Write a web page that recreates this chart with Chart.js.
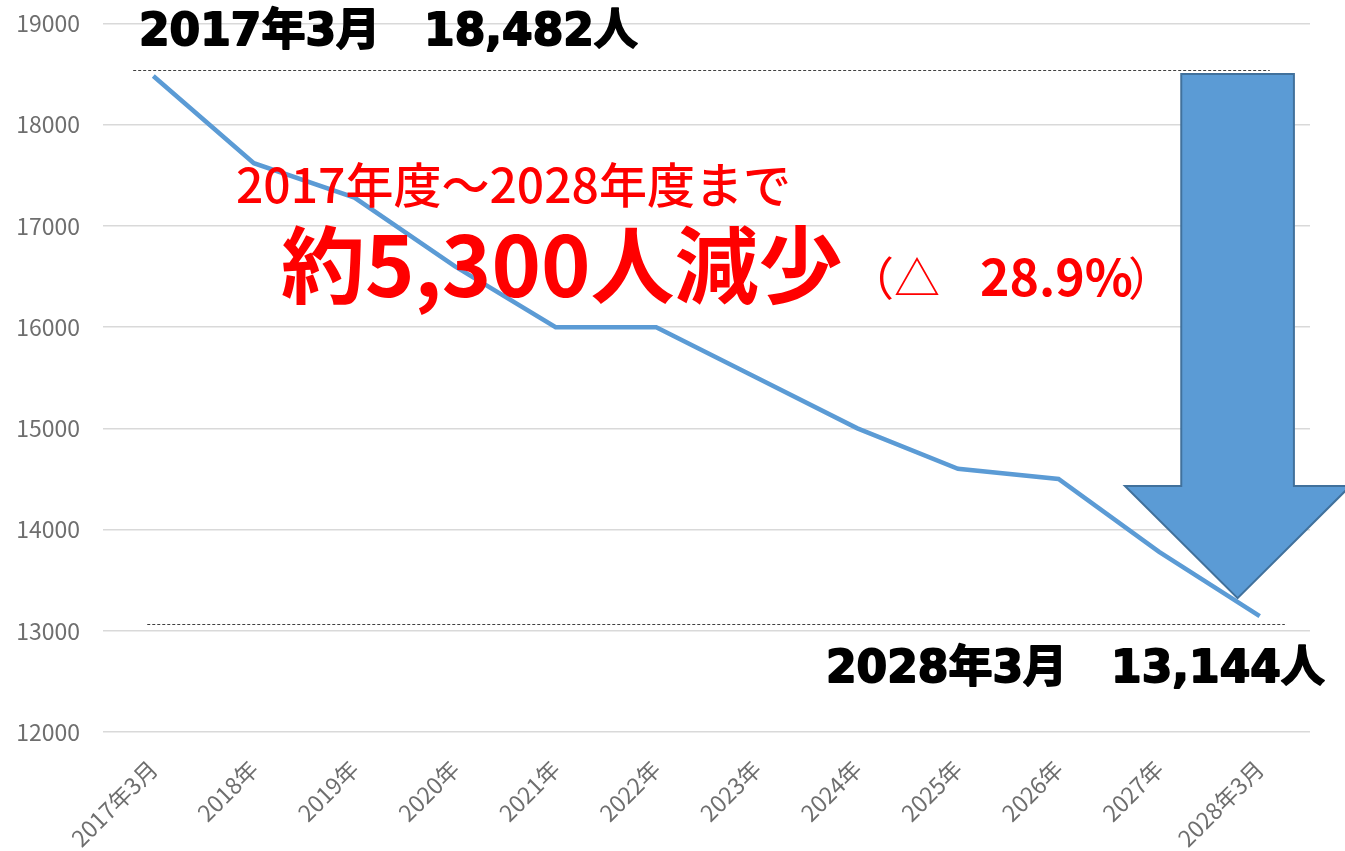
<!DOCTYPE html>
<html lang="ja">
<head>
<meta charset="utf-8">
<script src="https://cdn.jsdelivr.net/npm/chart.js@4.4.1/dist/chart.umd.min.js"></script>
<style>
  html, body { margin: 0; padding: 0; background: #fff; }
  #wrap { width: 1345px; height: 851px; position: relative; }
</style>
</head>
<body>
<div id="wrap"><canvas id="popChart"></canvas></div>
<script>
const years = ["2017年3月", "2018年", "2019年", "2020年", "2021年", "2022年",
  "2023年", "2024年", "2025年", "2026年", "2027年", "2028年3月"];
const population = [18482, 17620, 17280, 16600, 16000, 16000, 15500, 15000, 14600, 14500, 13780, 13144];
const yTicks = [12000, 13000, 14000, 15000, 16000, 17000, 18000, 19000];

const JP = '"Noto Sans CJK JP", "Noto Sans", sans-serif';
const HEAVY = '"DejaVu Sans", "Noto Sans CJK JP", sans-serif';

// dashed reference lines, arrow and captions drawn on top of the chart
const overlay = {
  id: "overlay",
  afterDatasetsDraw(chart) {
    const c = chart.ctx;
    const x = chart.scales.x, y = chart.scales.y;
    const step = x.getPixelForValue(1) - x.getPixelForValue(0);

    c.save();
    c.strokeStyle = "#404040";
    c.lineWidth = 1;
    c.setLineDash([3, 2]);
    c.beginPath();
    c.moveTo(x.getPixelForValue(-0.2), Math.round(y.getPixelForValue(18540)) + 0.5);
    c.lineTo(x.getPixelForValue(11.1), Math.round(y.getPixelForValue(18540)) + 0.5);
    c.moveTo(x.getPixelForValue(-0.06), Math.round(y.getPixelForValue(13066)) + 0.5);
    c.lineTo(x.getPixelForValue(11.25), Math.round(y.getPixelForValue(13066)) + 0.5);
    c.stroke();
    c.setLineDash([]);

    // down arrow
    const cx = x.getPixelForValue(10.78);
    const shaft = step * 0.56, head = step * 1.12;
    const top = y.getPixelForValue(18500), base = y.getPixelForValue(14430), tip = y.getPixelForValue(13323);
    c.beginPath();
    c.moveTo(cx - shaft, top);
    c.lineTo(cx + shaft, top);
    c.lineTo(cx + shaft, base);
    c.lineTo(cx + head, base);
    c.lineTo(cx, tip);
    c.lineTo(cx - head, base);
    c.lineTo(cx - shaft, base);
    c.closePath();
    c.fillStyle = "#5B9BD5";
    c.fill();
    c.strokeStyle = "#41719C";
    c.lineWidth = 2;
    c.stroke();

    // captions
    c.textBaseline = "alphabetic";
    c.textAlign = "left";
    c.fillStyle = "#000";
    c.strokeStyle = "#000";
    c.lineWidth = 1.8;
    c.lineJoin = "round";
    c.font = "bold 44px " + HEAVY;
    c.fillText("2017年3月　18,482人", 139, 45);
    c.strokeText("2017年3月　18,482人", 139, 45);
    c.fillText("2028年3月　13,144人", 826, 682);
    c.strokeText("2028年3月　13,144人", 826, 682);

    c.fillStyle = "#ff0000";
    c.font = "500 48px " + JP;
    c.fillText("2017年度～2028年度まで", 236, 203);
    c.font = "700 84px " + JP;
    c.fillText("約5,300人減少", 281, 297);
    c.font = "400 46px " + JP;
    c.fillText("（△", 848, 295);
    c.font = "700 50px " + JP;
    c.fillText("28.9%", 980, 296);
    c.font = "400 46px " + JP;
    c.fillText("）", 1128, 295);
    c.restore();
  }
};

new Chart(document.getElementById("popChart"), {
  type: "line",
  data: {
    labels: years,
    datasets: [{
      data: population,
      borderColor: "#5B9BD5",
      borderWidth: 4.5,
      pointRadius: 0,
      tension: 0,
      fill: false
    }]
  },
  options: {
    responsive: true,
    maintainAspectRatio: false,
    animation: false,
    layout: { padding: { top: 23.5, right: 35, left: 0, bottom: 0 } },
    plugins: { legend: { display: false }, tooltip: { enabled: false } },
    scales: {
      x: {
        offset: true,
        grid: { display: false },
        border: { display: false },
        ticks: {
          autoSkip: false, maxRotation: 45, minRotation: 45,
          color: "#6e6e6e", padding: 15,
          font: { family: JP, size: 23 }
        },
        afterFit(s) { s.height = 119; s.paddingLeft = 0; s.paddingRight = 0; }
      },
      y: {
        min: 12000, max: 19000,
        afterBuildTicks(s) { s.ticks = yTicks.map(v => ({ value: v })); },
        grid: { color: "#d9d9d9", lineWidth: 1.5, drawTicks: false },
        border: { display: false },
        ticks: {
          color: "#6e6e6e", padding: 23,
          font: { family: JP, size: 23 },
          callback: v => String(v)
        },
        afterFit(s) { s.width = 103; s.paddingTop = 0; s.paddingBottom = 0; }
      }
    }
  },
  plugins: [overlay]
});
</script>
</body>
</html>
